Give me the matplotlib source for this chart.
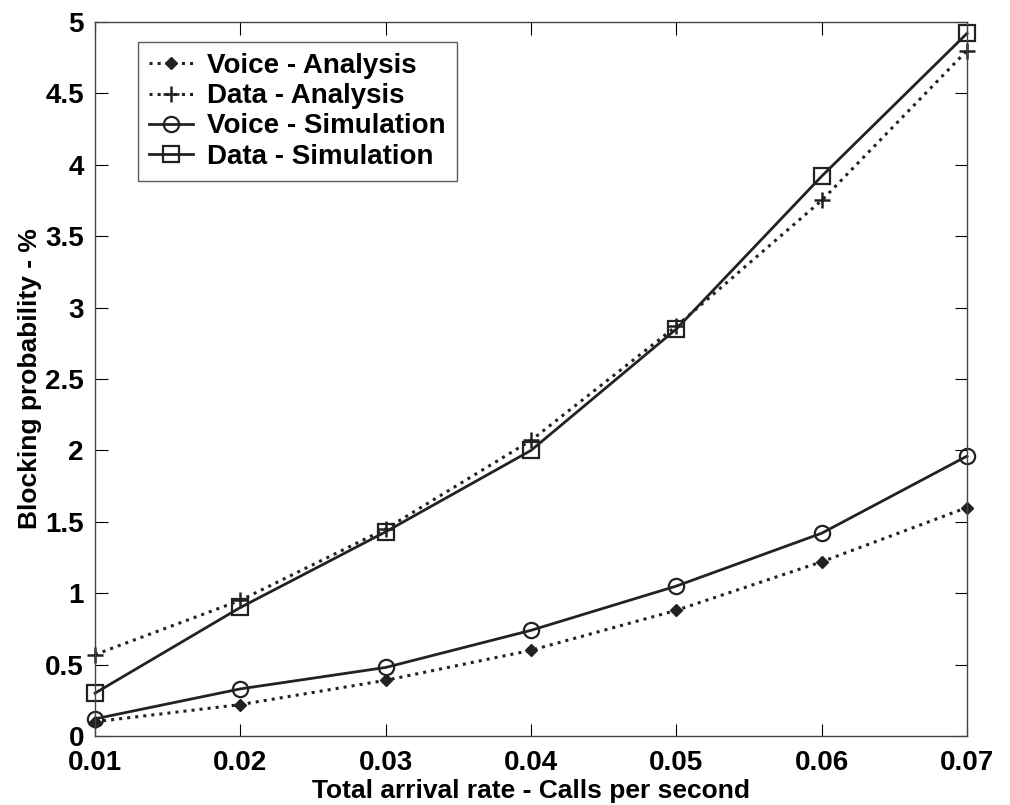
import matplotlib
matplotlib.use("Agg")
import matplotlib.pyplot as plt

rate = [0.01, 0.02, 0.03, 0.04, 0.05, 0.06, 0.07]
voice_analysis = [0.10, 0.22, 0.39, 0.60, 0.88, 1.22, 1.60]
data_analysis = [0.57, 0.95, 1.45, 2.07, 2.87, 3.75, 4.80]
voice_sim = [0.12, 0.33, 0.48, 0.74, 1.05, 1.42, 1.96]
data_sim = [0.30, 0.90, 1.43, 2.00, 2.85, 3.92, 4.92]

plt.rcParams['font.family'] = ['Liberation Sans', 'DejaVu Sans']
plt.rcParams['font.weight'] = 'bold'

fig = plt.figure(figsize=(10.1, 8.05), dpi=100)
ax = fig.add_axes([95/1010, 1 - 736/805, (967-95)/1010, (736-22)/805])

ax.plot(rate, voice_analysis, ':', color='#222222', lw=2.2, marker='D', ms=6,
        clip_on=False, label='Voice - Analysis')
ax.plot(rate, data_analysis, ':', color='#222222', lw=2.2, marker='+', ms=12, mew=1.8,
        clip_on=False, label='Data - Analysis')
ax.plot(rate, voice_sim, '-', color='#222222', lw=2, marker='o', ms=11,
        mfc='none', mew=1.6, clip_on=False, label='Voice - Simulation')
ax.plot(rate, data_sim, '-', color='#222222', lw=2, marker='s', ms=11,
        mfc='none', mew=1.6, clip_on=False, label='Data - Simulation')

ax.set_xlim(0.01, 0.07)
ax.set_ylim(0, 5)
ax.set_xticks(rate)
ax.set_xticklabels(['0.01', '0.02', '0.03', '0.04', '0.05', '0.06', '0.07'])
ax.set_yticks([0, 0.5, 1, 1.5, 2, 2.5, 3, 3.5, 4, 4.5, 5])
ax.set_yticklabels(['0', '0.5', '1', '1.5', '2', '2.5', '3', '3.5', '4', '4.5', '5'])
ax.tick_params(direction='in', length=9, labelsize=20, top=True, right=True)
ax.tick_params(axis='x', pad=10)
ax.tick_params(axis='y', pad=8)
for s in ax.spines.values():
    s.set_linewidth(1.0)
    s.set_color('#444444')

ax.set_xlabel('Total arrival rate - Calls per second', fontsize=19, fontweight='bold', labelpad=2)
ax.set_ylabel('Blocking probability - %', fontsize=19, fontweight='bold', labelpad=2)

leg = ax.legend(loc='upper left', bbox_to_anchor=(0.049, 0.972), borderaxespad=0,
                fontsize=20, frameon=True, fancybox=False, edgecolor='#333333',
                handlelength=1.6, handletextpad=0.5, labelspacing=0.15, borderpad=0.4)
leg.get_frame().set_linewidth(1.0)

fig.savefig('out.png', dpi=100)
